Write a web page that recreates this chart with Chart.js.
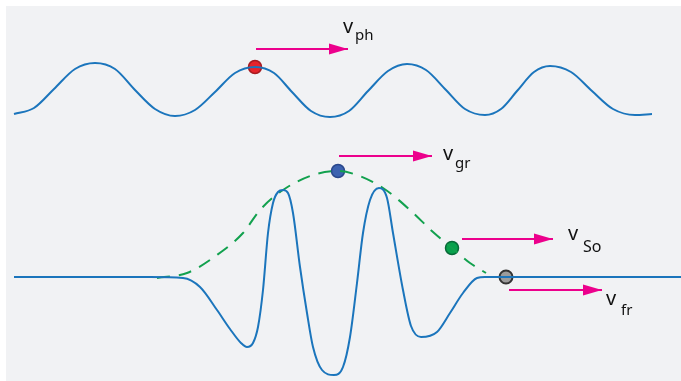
<!DOCTYPE html>
<html>
<head>
<meta charset="utf-8">
<script src="https://cdn.jsdelivr.net/npm/chart.js@4/dist/chart.umd.min.js"></script>
<style>
  html, body { margin: 0; padding: 0; background: #ffffff; }
  #wrap { width: 681px; height: 381px; }
</style>
</head>
<body>
<div id="wrap"><canvas id="waveChart" width="681" height="381"></canvas></div>
<script>
// carrier wave (phase velocity)
const carrierX = [14, 34, 54, 75, 95, 115, 135, 155, 175, 195, 215, 235, 255, 274, 292, 311, 330, 349, 368, 388, 407, 426, 446, 465, 485, 501, 517, 534, 550, 571, 592, 613, 635, 652];
const carrierY = [267, 273, 292, 312, 318, 312, 291, 272, 265, 271, 289, 308, 314, 308, 289, 270, 264, 270, 290, 310, 317, 311, 291, 272, 266, 272, 290, 309, 315, 309, 290, 272, 266, 267];

// wave packet
const packetX = [14, 150, 183, 200, 217, 230, 241, 247, 253, 258, 263, 268, 273, 278, 283, 288, 293, 300, 307, 313, 322, 334, 343, 350, 357, 363, 370, 379, 387, 393, 403, 411, 421, 437, 450, 463, 477, 485, 681];
const packetY = [104, 104, 103, 94, 71, 52, 38, 34, 38, 54, 91, 148, 178, 189, 191, 188, 168, 114, 68, 34, 11, 6, 14, 44, 98, 148, 181, 193, 183, 148, 91, 55, 44, 49, 68, 88, 103, 104, 104];

// envelope (group velocity)
const envelopeX = [157, 187, 217, 243, 260, 283, 313, 338, 357, 383, 410, 433, 452, 470, 486];
const envelopeY = [103, 108, 126, 148, 171, 191, 206, 210, 206, 193, 171, 149, 133, 118, 108];

// marked points: phase, group, signal, front
const markerX = [255, 338, 452, 506];
const markerY = [314, 210, 133, 104];
const markerFill = ['#e6242b', '#3c62b0', '#08a14c', '#9b9b9b'];
const markerEdge = ['#a81b20', '#2a478c', '#086a38', '#333333'];

// velocity arrows: start x, tip x, y
const arrowNames = ['ph', 'gr', 'So', 'fr'];
const arrowStart = [256, 339, 462, 509];
const arrowTip = [348, 432, 553, 602];
const arrowY = [332, 225, 142, 91];

const PINK = '#ec008c';
const BLUE = '#1b75bc';

// arrowhead image, tip sits at the image centre
function makeHead() {
    const c = document.createElement('canvas');
    c.width = 38;
    c.height = 12;
    const g = c.getContext('2d');
    g.fillStyle = PINK;
    g.beginPath();
    g.moveTo(0, 0.5);
    g.lineTo(19, 6);
    g.lineTo(0, 11.5);
    g.closePath();
    g.fill();
    return c;
}
const head = makeHead();

function pts(xs, ys) {
    return xs.map((x, i) => ({ x: x, y: ys[i] }));
}

const datasets = [];

datasets.push({
    data: pts(carrierX, carrierY),
    borderColor: BLUE,
    borderWidth: 2,
    pointRadius: 0,
    cubicInterpolationMode: 'monotone'
});

datasets.push({
    data: pts(packetX, packetY),
    borderColor: BLUE,
    borderWidth: 2,
    pointRadius: 0,
    cubicInterpolationMode: 'monotone'
});

datasets.push({
    data: pts(envelopeX, envelopeY),
    borderColor: '#12a14e',
    borderWidth: 2,
    borderDash: [13, 9],
    pointRadius: 0,
    cubicInterpolationMode: 'monotone'
});

// arrows
arrowNames.forEach((n, i) => {
    datasets.push({
        data: [{ x: arrowStart[i], y: arrowY[i] }, { x: arrowTip[i], y: arrowY[i] }],
        borderColor: PINK,
        borderWidth: 2,
        pointRadius: [0, 6],
        pointStyle: head,
        tension: 0
    });
});

// dots
datasets.push({
    type: 'scatter',
    data: pts(markerX, markerY),
    backgroundColor: markerFill,
    borderColor: markerEdge,
    borderWidth: [1.5, 1.5, 1.5, 2],
    pointRadius: 6.5
});

// velocity labels: v with subscript, placed relative to the arrow tips
const labelOffsets = [
    { dx: -5, dy: 16, sdx: 12, sdy: -7, size: 15 },
    { dx: 11, dy: -4, sdx: 12, sdy: -8, size: 15 },
    { dx: 15, dy: -1, sdx: 15, sdy: -12, size: 16 },
    { dx: 4, dy: -15, sdx: 15, sdy: -10, size: 15 }
];

const labelPlugin = {
    id: 'labels',
    beforeDraw(chart) {
        const ctx = chart.ctx;
        ctx.save();
        ctx.fillStyle = '#ffffff';
        ctx.fillRect(0, 0, chart.width, chart.height);
        ctx.fillStyle = '#f1f2f4';
        ctx.fillRect(6, 6, chart.width - 6, chart.height - 6);
        ctx.restore();
    },
    afterDraw(chart) {
        const ctx = chart.ctx;
        const xs = chart.scales.x;
        const ys = chart.scales.y;
        ctx.save();
        ctx.fillStyle = '#111111';
        ctx.textBaseline = 'alphabetic';
        arrowNames.forEach((n, i) => {
            const o = labelOffsets[i];
            const px = xs.getPixelForValue(arrowTip[i] + o.dx);
            const py = ys.getPixelForValue(arrowY[i] + o.dy);
            ctx.font = '20px "Noto Sans"';
            ctx.fillText('v', px, py);
            ctx.font = o.size + 'px "Noto Sans"';
            ctx.fillText(n, px + o.sdx, py - o.sdy);
        });
        ctx.restore();
    }
};

new Chart(document.getElementById('waveChart'), {
    type: 'line',
    data: { datasets: datasets },
    options: {
        responsive: false,
        animation: false,
        events: [],
        layout: { padding: 0, autoPadding: false },
        plugins: {
            legend: { display: false },
            tooltip: { enabled: false }
        },
        scales: {
            x: { type: 'linear', min: 0, max: 681, display: false },
            y: { type: 'linear', min: 0, max: 381, display: false }
        }
    },
    plugins: [labelPlugin]
});
</script>
</body>
</html>
